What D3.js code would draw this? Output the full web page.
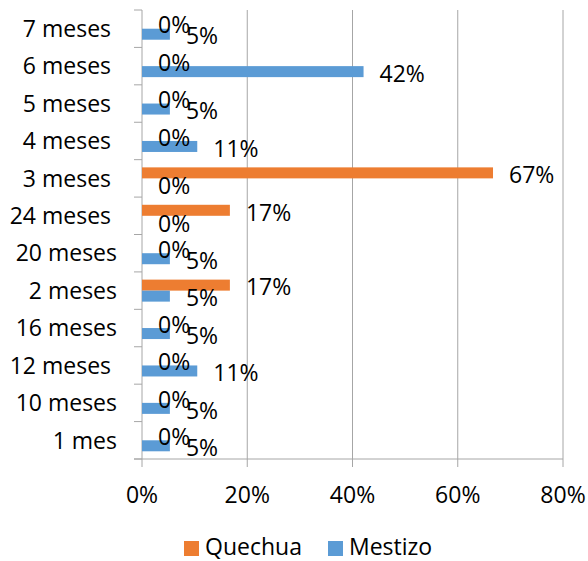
<!DOCTYPE html>
<meta charset="utf-8">
<style>
body { margin: 0; background: #fff; }
text { font-family: "Open Sans", sans-serif; fill: #000; white-space: pre; }
.grid line { stroke: #a6a6a6; stroke-width: 1; }
</style>
<body>
<script src="https://cdn.jsdelivr.net/npm/d3@7"></script>
<script>

// categories, bottom to top as in the chart
var categories = ["1 mes", "10 meses", "12 meses ", "16 meses", "2 meses", "20 meses",
                  "24 meses ", "3 meses ", "4 meses ", "5 meses ", "6 meses ", "7 meses "];
var series = ["Quechua", "Mestizo"];
var quechua = [0, 0, 0, 0, 16.7, 0, 16.7, 66.7, 0, 0, 0, 0];
var mestizo = [5.3, 5.3, 10.5, 5.3, 5.3, 5.3, 0, 0, 10.5, 5.3, 42.1, 5.3];
var xTicks = [0, 20, 40, 60, 80];
var colors = {Quechua: "#ed7d31", Mestizo: "#5b9bd5"};

var width = 588, height = 561;

var svg = d3.select("body").append("svg")
    .attr("width", width)
    .attr("height", height);

var x = d3.scaleLinear().domain([0, 80]).range([142, 563]);
var y = d3.scaleBand().domain(categories).range([459, 10]);
var y1 = d3.scaleBand().domain(series).range([0, y.bandwidth()]).paddingOuter(0.7);

// vertical gridlines
svg.append("g").attr("class", "grid")
  .selectAll("line")
  .data(xTicks.slice(1))
  .enter().append("line")
    .attr("x1", function(d) { return x(d); })
    .attr("x2", function(d) { return x(d); })
    .attr("y1", 10)
    .attr("y2", 459);

// left axis with ticks between categories
var yEdges = categories.map(function(c) { return y(c); }).concat([459]);
var left = svg.append("g").attr("class", "grid");
left.append("line").attr("x1", 142).attr("x2", 142).attr("y1", 10).attr("y2", 459);
left.selectAll(".tk").data(yEdges).enter().append("line")
    .attr("x1", 134).attr("x2", 142)
    .attr("y1", function(d) { return d; })
    .attr("y2", function(d) { return d; });

// bottom axis
var bottom = svg.append("g").attr("class", "grid");
bottom.append("line").attr("x1", 134).attr("x2", 563).attr("y1", 459).attr("y2", 459);
bottom.selectAll(".tk").data(xTicks).enter().append("line")
    .attr("x1", function(d) { return x(d); })
    .attr("x2", function(d) { return x(d); })
    .attr("y1", 459).attr("y2", 467);

svg.selectAll(".xlab").data(xTicks).enter().append("text")
    .attr("x", function(d) { return x(d); })
    .attr("y", 503)
    .attr("text-anchor", "middle")
    .style("font-size", "23px")
    .text(function(d) { return d + "%"; });

// category labels
svg.selectAll(".ylab").data(categories).enter().append("text")
    .attr("x", 117)
    .attr("y", function(d) { return y(d) + y.bandwidth() / 2; })
    .attr("dy", "0.36em")
    .attr("text-anchor", "end")
    .style("font-size", "23px")
    .text(function(d) { return d; });

// bars
var rows = [];
categories.forEach(function(c, i) {
  rows.push({cat: c, s: "Quechua", v: quechua[i]});
  rows.push({cat: c, s: "Mestizo", v: mestizo[i]});
});

svg.selectAll(".bar").data(rows).enter().append("rect")
    .attr("x", x(0))
    .attr("y", function(d) { return y(d.cat) + y1(d.s); })
    .attr("width", function(d) { return x(d.v) - x(0); })
    .attr("height", y1.bandwidth())
    .attr("fill", function(d) { return colors[d.s]; });

svg.selectAll(".lbl").data(rows).enter().append("text")
    .attr("x", function(d) { return x(d.v) + 16; })
    .attr("y", function(d) { return y(d.cat) + y1(d.s) + y1.bandwidth() / 2 + 2; })
    .attr("dy", "0.36em")
    .style("font-size", "23px")
    .text(function(d) { return Math.round(d.v) + "%"; });

// legend
var legend = [{s: "Quechua", x: 184}, {s: "Mestizo", x: 328}];
var lg = svg.selectAll(".lg").data(legend).enter().append("g");
lg.append("rect")
    .attr("x", function(d) { return d.x; })
    .attr("y", 541)
    .attr("width", 15).attr("height", 15)
    .attr("fill", function(d) { return colors[d.s]; });
lg.append("text")
    .attr("x", function(d) { return d.x + 21; })
    .attr("y", 555)
    .style("font-size", "23px")
    .text(function(d) { return d.s; });

</script>
</body>
